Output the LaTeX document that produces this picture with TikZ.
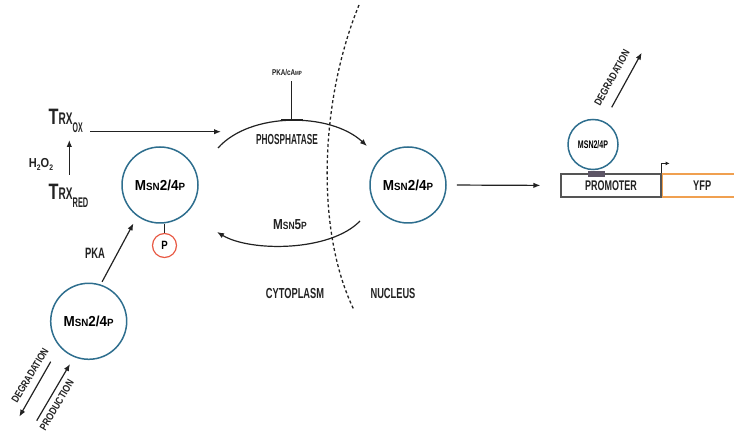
\documentclass[tikz,border=0pt]{standalone}
\usepackage{fontspec}
\usepackage{graphicx}
\setmainfont{Liberation Sans}
\newfontfamily\narrowf{Liberation Sans}[FakeStretch=0.8]
\usetikzlibrary{arrows.meta,calc}
\definecolor{teal2}{HTML}{2E6E8E}
\definecolor{pred}{HTML}{E85A45}
\definecolor{orange2}{HTML}{F0A050}
\definecolor{gray5}{HTML}{555555}
\definecolor{gbar}{HTML}{5D5566}
\definecolor{ink}{HTML}{222222}
\newcommand\sx[2]{\scalebox{#1}[1]{#2}}
\newcommand\fs[1]{\fontsize{#1}{#1}\selectfont}
\newcommand\msnlbl{\sx{0.93}{\fs{14.5}M\fs{10.5}SN\fs{14.5}2/4\fs{10.5}P}}
\begin{document}
\begin{tikzpicture}[x=1pt,y=-1pt,font=\bfseries,
  mol/.style={circle,draw=teal2,line width=1.5pt,minimum size=76pt,inner sep=0pt},
  arr/.style={-{Latex[length=7pt,width=5.5pt]},line width=1.2pt,draw=ink},
  txt/.style={inner sep=0pt,text=ink},
  rtxt/.style={inner sep=0pt,text=ink,font=\narrowf\bfseries\fs{10.5}}]
\useasboundingbox (0,0) rectangle (734,435);
% molecules
\node[mol] (c1) at (160,185) {\msnlbl};
\node[mol] (c2) at (408,185) {\msnlbl};
\node[mol] (c3) at (88.7,321.3) {\msnlbl};
\node[circle,draw=pred,line width=1.2pt,minimum size=24pt,inner sep=0pt] (p) at (164.5,245.5) {\sx{0.8}{\fs{12}P}};
\draw[line width=1pt,draw=ink] (p.north) -- (p.north |- c1.south);
% TRX
\node[txt,anchor=base west] (trxox) at (48.5,124.3) {\sx{0.73}{\fs{22.3}T}\sx{0.6}{\fs{16.8}RX}\raisebox{-8pt}{\sx{0.5}{\fs{14}OX}}};
\node[txt,anchor=base west] (trxred) at (48.5,199.5) {\sx{0.73}{\fs{22.3}T}\sx{0.6}{\fs{16.8}RX}\raisebox{-8pt}{\sx{0.53}{\fs{14}RED}}};
\node[txt] (h2o2) at (41,164) {\sx{0.85}{\fs{13}H\raisebox{-3pt}{\fs{8}2}O\raisebox{-3pt}{\fs{8}2}}};
\coordinate (v1) at (69.3,175);
\coordinate (v2) at (69.3,140);
\draw[arr] (v1) -- (v2);
\coordinate (t1) at (90,131.7);
\coordinate (t2) at (221,131.7);
\draw[arr] (t1) -- (t2);
% cycle
\coordinate (a1) at (218,148);
\coordinate (a2) at (367,146);
\draw[arr] (a1) .. controls (250,112) and (330,112) .. (a2);
\coordinate (b1) at (360,221);
\coordinate (b2) at (217,232);
\draw[arr] (b1) .. controls (330,252) and (250,252) .. (b2);
\node[txt] (pk) at (287,73) {\sx{0.75}{\fs{8.4}PKA/cA\fs{6}MP}};
\coordinate (tb) at (291.5,120.3);
\draw[line width=1.1pt,draw=ink,-{Bar[width=22pt]},shorten <=5pt] (pk.south -| tb) -- (tb);
\node[txt] (phos) at (287,140) {\sx{0.57}{\fs{14.5}PHOSPHATASE}};
\node[txt] (msn5) at (290,225) {\sx{0.81}{\fs{14.5}M\fs{10.5}SN\fs{14.5}5\fs{10.5}P}};
% membrane
\draw[ink,line width=1.3pt,dash pattern=on 3pt off 2.5pt] (359,5) .. controls (320,100) and (315,230) .. (354,310);
\node[txt] (cyto) at (295,294) {\sx{0.64}{\fs{14.5}CYTOPLASM}};
\node[txt] (nuc) at (393,294) {\sx{0.64}{\fs{14.5}NUCLEUS}};
% PKA
\draw[arr,shorten <=3pt,shorten >=8pt] (c3.72) -- (c1.234);
\node[txt] (pka) at (95,253) {\sx{0.63}{\fs{15}PKA}};
% production / degradation
\coordinate (d1) at (50.7,361.7);
\coordinate (d2) at (19.3,416.7);
\draw[arr] (d1) -- (d2);
\coordinate (q1) at (36.7,420.7);
\coordinate (q2) at (70,364);
\draw[arr] (q1) -- (q2);
\node[rtxt,rotate=59] (degl) at (30,375.5) {DEGRADATION};
\node[rtxt,rotate=59] (prodl) at (56.7,405) {PRODUCTION};
% promoter
\node[draw=gray5,line width=1.2pt,minimum width=100pt,minimum height=23pt,inner sep=0pt,text=ink] (prom) at (611,185.5) {\sx{0.64}{\fs{14}PROMOTER}\hspace{14pt}};
\node[draw=orange2,line width=1.2pt,minimum width=80pt,minimum height=23pt,inner sep=0pt,anchor=west,text=ink] (yfp) at (661.6,185.5) {\sx{0.66}{\fs{14}YFP}\hspace{17pt}};
\draw[ink,line width=1pt,-{Latex[length=4pt,width=4pt]}] (prom.north east) -- ++(0,-10) -- ++(8,0);
\draw[arr,shorten <=10pt,shorten >=20pt] (c2.east) -- (prom.west);
\node[circle,draw=teal2,line width=1.5pt,minimum size=50pt,inner sep=0pt] (mb) at (593,144.5) {\sx{0.64}{\fs{11}MSN2/4P}};
\node[fill=gbar,minimum width=17pt,minimum height=6pt,inner sep=0pt] (bar) at (596,173.6) {};
\coordinate (e1) at (611.7,107.3);
\coordinate (e2) at (641.7,52.7);
\draw[arr] (e1) -- (e2);
\node[rtxt,rotate=61] (degr) at (612,78) {DEGRADATION};
\end{tikzpicture}
\end{document}
